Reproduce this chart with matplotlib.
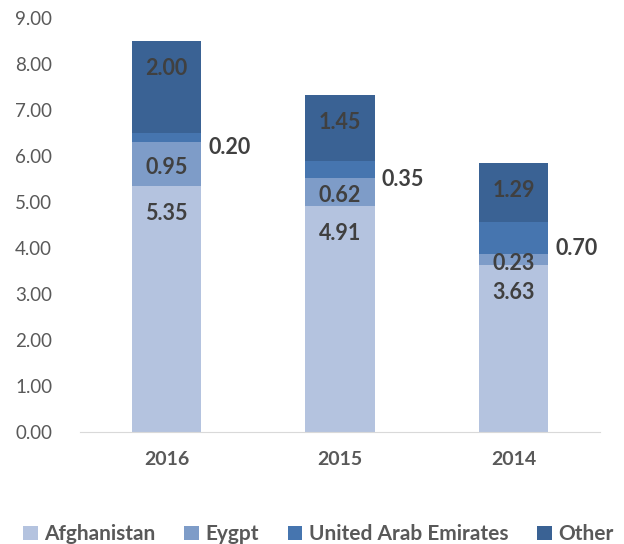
import matplotlib
matplotlib.use("Agg")
import matplotlib.pyplot as plt
import numpy as np

plt.rcParams['font.family'] = ['Lato', 'DejaVu Sans']

years = ['2016', '2015', '2014']
afghanistan = [5.35, 4.91, 3.63]
egypt = [0.95, 0.62, 0.23]
uae = [0.20, 0.35, 0.70]
other = [2.00, 1.45, 1.29]
series_names = ['Afghanistan', 'Eygpt', 'United Arab Emirates', 'Other']
colors = ['#B4C3DF', '#7E9CC8', '#4675AF', '#3A6294']
yticks = [0, 1, 2, 3, 4, 5, 6, 7, 8, 9]

fig = plt.figure(figsize=(6.24, 5.44), dpi=100)
ax = fig.add_axes([0.128, 0.206, 0.834, 0.761])

x = np.arange(len(years))
w = 0.40
bottom = np.zeros(len(years))
series = [afghanistan, egypt, uae, other]
bars = []
for vals, name, c in zip(series, series_names, colors):
    ax.bar(x, vals, w, bottom=bottom, color=c, label=name, edgecolor='none')
    bars.append((np.array(vals), bottom.copy()))
    bottom = bottom + np.array(vals)

# data labels
lab = dict(fontsize=15.5, fontweight='bold', color='#404040', ha='center', va='center')
for i in range(len(years)):
    v, b0 = bars[0][0][i], bars[0][1][i]
    ax.text(x[i], b0 + v - 0.6, f'{v:.2f}', **lab)
    v, b0 = bars[1][0][i], bars[1][1][i]
    ax.text(x[i], b0 + v / 2 - 0.08, f'{v:.2f}', **lab)
    v, b0 = bars[2][0][i], bars[2][1][i]
    ax.text(x[i] + w / 2 + 0.04, b0 + v / 2 - 0.22, f'{v:.2f}',
            fontsize=15.5, fontweight='bold', color='#404040', ha='left', va='center')
    v, b0 = bars[3][0][i], bars[3][1][i]
    ax.text(x[i], b0 + v - 0.6, f'{v:.2f}', **lab)

ax.set_ylim(0, 9)
ax.set_xlim(-0.5, 2.5)
ax.set_yticks(yticks)
ax.set_yticklabels([f'{t:.2f}' for t in yticks], fontsize=13.5, color='#595959')
ax.set_xticks(x)
ax.set_xticklabels(years, fontsize=14, fontweight='bold', color='#595959')
ax.tick_params(axis='y', length=0, pad=20)
ax.tick_params(axis='x', length=0, pad=14)
for s in ['top', 'right', 'left']:
    ax.spines[s].set_visible(False)
ax.spines['bottom'].set_color('#D9D9D9')

leg = fig.legend(loc='lower center', ncol=4, frameon=False, bbox_to_anchor=(0.51, -0.035),
                 handlelength=0.7, handleheight=0.7, handletextpad=0.3, columnspacing=1.4,
                 prop={'size': 15, 'weight': 'bold'})
for t in leg.get_texts():
    t.set_color('#595959')

fig.savefig('out.png', dpi=100)
